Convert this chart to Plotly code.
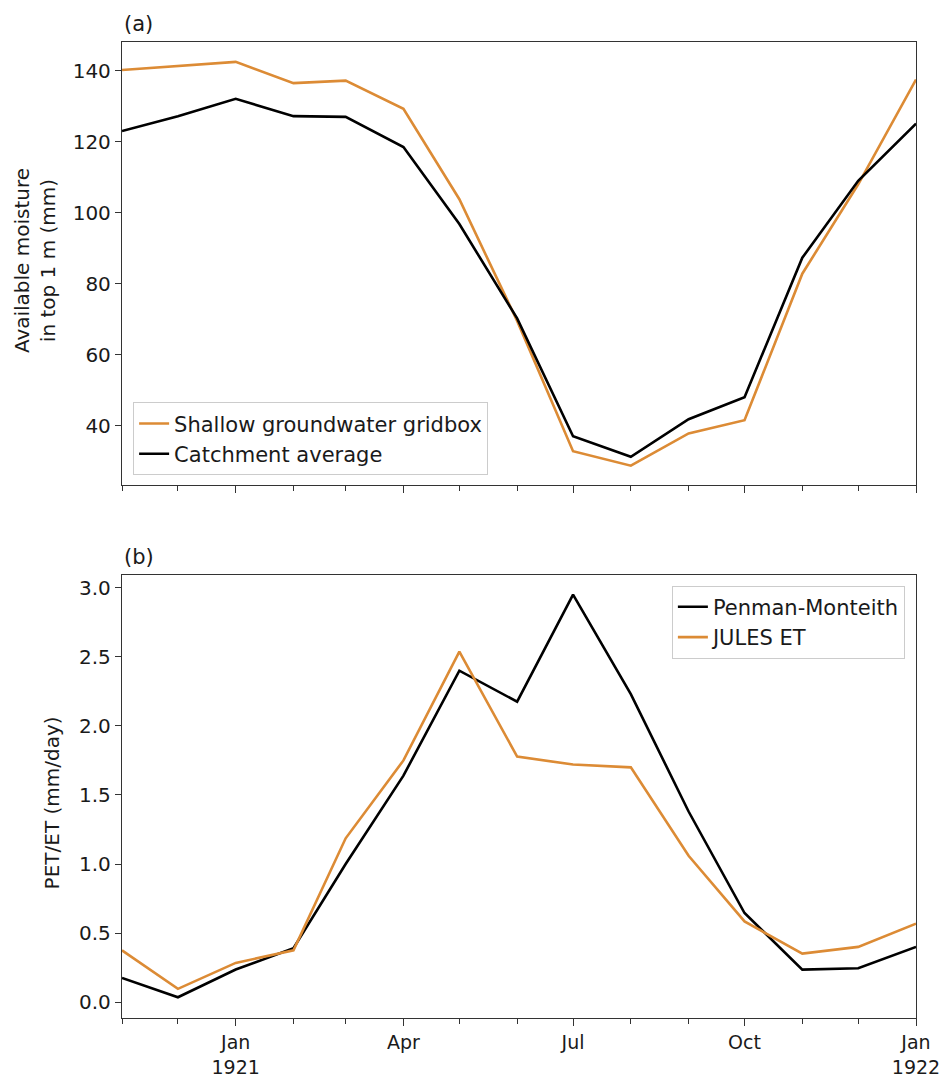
import plotly.graph_objects as go
from plotly.subplots import make_subplots

# ---- data ----
months = ["1920-11-01", "1920-12-01", "1921-01-01", "1921-02-01", "1921-03-01",
          "1921-04-01", "1921-05-01", "1921-06-01", "1921-07-01", "1921-08-01",
          "1921-09-01", "1921-10-01", "1921-11-01", "1921-12-01", "1922-01-01"]

shallow_gw = [140.2, 141.3, 142.5, 136.5, 137.2, 129.3, 103.8, 69.5, 32.8, 28.7,
              37.8, 41.5, 82.8, 108.0, 137.5]
catchment_avg = [123.0, 127.2, 132.1, 127.2, 127.0, 118.5, 96.8, 70.2, 37.0, 31.2,
                 41.8, 48.0, 87.3, 109.0, 125.1]

penman_monteith = [0.175, 0.035, 0.236, 0.39, 1.00, 1.64, 2.40, 2.175, 2.95, 2.23,
                   1.38, 0.645, 0.235, 0.245, 0.40]
jules_et = [0.375, 0.096, 0.284, 0.375, 1.186, 1.75, 2.538, 1.778, 1.72, 1.70,
            1.06, 0.584, 0.351, 0.40, 0.568]

major_ticks = ["1921-01-01", "1921-04-01", "1921-07-01", "1921-10-01", "1922-01-01"]
major_labels = ["Jan<br>1921", "Apr", "Jul", "Oct", "Jan<br>1922"]

ticks_a = [40, 60, 80, 100, 120, 140]
ticks_b = [0.0, 0.5, 1.0, 1.5, 2.0, 2.5, 3.0]

ORANGE = "#DC8B35"
BLACK = "#000000"
FONT = "DejaVu Sans"
TXT = "#1a1a1a"

fig = make_subplots(rows=2, cols=1, shared_xaxes=False, vertical_spacing=0.0)

fig.add_trace(go.Scatter(x=months, y=shallow_gw, mode="lines", name="Shallow groundwater gridbox",
                         line=dict(color=ORANGE, width=2.6), legend="legend"), row=1, col=1)
fig.add_trace(go.Scatter(x=months, y=catchment_avg, mode="lines", name="Catchment average",
                         line=dict(color=BLACK, width=2.6), legend="legend"), row=1, col=1)
fig.add_trace(go.Scatter(x=months, y=penman_monteith, mode="lines", name="Penman-Monteith",
                         line=dict(color=BLACK, width=2.6), legend="legend2"), row=2, col=1)
fig.add_trace(go.Scatter(x=months, y=jules_et, mode="lines", name="JULES ET",
                         line=dict(color=ORANGE, width=2.6), legend="legend2"), row=2, col=1)

xcommon = dict(type="date", range=["1920-11-01", "1922-01-01"], tickmode="array",
               tickvals=major_ticks, ticks="outside", ticklen=7, tickwidth=1.3,
               tickcolor="#333", showline=True, linecolor="#333", linewidth=1.3,
               mirror=True, showgrid=False, zeroline=False, automargin=False,
               minor=dict(tickmode="array", tickvals=months, ticks="outside", ticklen=5,
                          tickwidth=1.1, tickcolor="#333", showgrid=False),
               tickfont=dict(family=FONT, size=19, color=TXT))

fig.update_xaxes(**xcommon, row=1, col=1)
fig.update_xaxes(**xcommon, row=2, col=1)
fig.update_xaxes(showticklabels=False, row=1, col=1)
fig.update_xaxes(ticktext=major_labels, row=2, col=1)

ycommon = dict(ticks="outside", ticklen=6, tickwidth=1.3, tickcolor="#333",
               showline=True, linecolor="#333", linewidth=1.3, mirror=True,
               showgrid=False, zeroline=False, automargin=False,
               tickfont=dict(family=FONT, size=20, color=TXT))
fig.update_yaxes(**ycommon, range=[23.2, 148.1], tickmode="array", tickvals=ticks_a,
                 row=1, col=1)
fig.update_yaxes(**ycommon, range=[-0.115, 3.094], tickmode="array", tickvals=ticks_b,
                 tickformat=".1f", row=2, col=1)

fig.update_layout(
    width=946, height=1084,
    margin=dict(l=122, r=30, t=42, b=66),
    plot_bgcolor="white", paper_bgcolor="white",
    font=dict(family=FONT, size=20, color=TXT),
    showlegend=True,
    xaxis=dict(domain=[0, 1]),
    yaxis=dict(domain=[0.5459, 1.0]),
    yaxis2=dict(domain=[0.0, 0.4541]),
    legend=dict(x=0.014, y=0.556, xanchor="left", yanchor="bottom",
                bgcolor="rgba(255,255,255,0.85)", bordercolor="#cccccc", borderwidth=1,
                font=dict(family=FONT, size=21, color=TXT), tracegroupgap=0),
    legend2=dict(x=0.986, y=0.443, xanchor="right", yanchor="top",
                 bgcolor="rgba(255,255,255,0.85)", bordercolor="#cccccc", borderwidth=1,
                 font=dict(family=FONT, size=21, color=TXT), tracegroupgap=0),
    annotations=[
        dict(text="(a)", x=0, y=1.0, xref="paper", yref="paper", xanchor="left",
             yanchor="bottom", yshift=4, showarrow=False,
             font=dict(family=FONT, size=21, color=TXT)),
        dict(text="(b)", x=0, y=0.4541, xref="paper", yref="paper", xanchor="left",
             yanchor="bottom", yshift=4, showarrow=False,
             font=dict(family=FONT, size=21, color=TXT)),
        dict(text="Available moisture<br>in top 1 m (mm)", x=-0.1096, y=0.7765,
             xref="paper", yref="paper", xanchor="center", yanchor="middle",
             textangle=-90, showarrow=False,
             font=dict(family=FONT, size=20, color=TXT)),
        dict(text="PET/ET (mm/day)", x=-0.088, y=0.22,
             xref="paper", yref="paper", xanchor="center", yanchor="middle",
             textangle=-90, showarrow=False,
             font=dict(family=FONT, size=20, color=TXT)),
    ],
)

fig.write_html("out.html")
